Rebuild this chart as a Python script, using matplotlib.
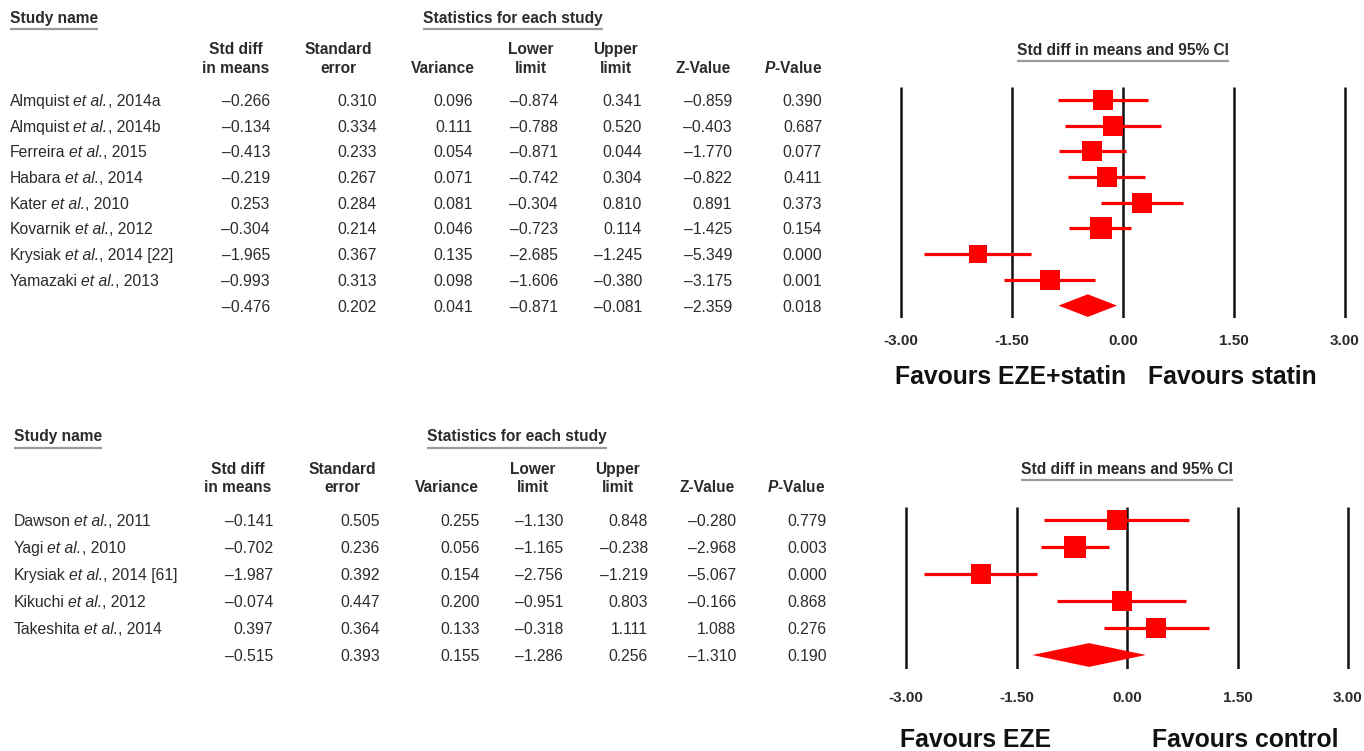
import numpy as np
import matplotlib.pyplot as plt
from matplotlib.font_manager import FontProperties

plt.rcParams['font.family'] = ['Liberation Sans', 'DejaVu Sans']
plt.rcParams['mathtext.fontset'] = 'custom'
plt.rcParams['mathtext.rm'] = 'Liberation Sans'
plt.rcParams['mathtext.it'] = 'Liberation Sans:italic'
plt.rcParams['mathtext.bf'] = 'Liberation Sans:bold'
plt.rcParams['mathtext.bfit'] = 'Liberation Sans:italic:bold'

# --- EZE + statin vs statin ---
names_a = ['Almquist et al., 2014a', 'Almquist et al., 2014b', 'Ferreira et al., 2015',
           'Habara et al., 2014', 'Kater et al., 2010', 'Kovarnik et al., 2012',
           'Krysiak et al., 2014 [22]', 'Yamazaki et al., 2013']
smd_a = [-0.266, -0.134, -0.413, -0.219, 0.253, -0.304, -1.965, -0.993]
se_a = [0.310, 0.334, 0.233, 0.267, 0.284, 0.214, 0.367, 0.313]
var_a = [0.096, 0.111, 0.054, 0.071, 0.081, 0.046, 0.135, 0.098]
lo_a = [-0.874, -0.788, -0.871, -0.742, -0.304, -0.723, -2.685, -1.606]
hi_a = [0.341, 0.520, 0.044, 0.304, 0.810, 0.114, -1.245, -0.380]
z_a = [-0.859, -0.403, -1.770, -0.822, 0.891, -1.425, -5.349, -3.175]
p_a = [0.390, 0.687, 0.077, 0.411, 0.373, 0.154, 0.000, 0.001]
pooled_a = [-0.476, 0.202, 0.041, -0.871, -0.081, -2.359, 0.018]

# --- EZE vs control ---
names_b = ['Dawson et al., 2011', 'Yagi et al., 2010', 'Krysiak et al., 2014 [61]',
           'Kikuchi et al., 2012', 'Takeshita et al., 2014']
smd_b = [-0.141, -0.702, -1.987, -0.074, 0.397]
se_b = [0.505, 0.236, 0.392, 0.447, 0.364]
var_b = [0.255, 0.056, 0.154, 0.200, 0.133]
lo_b = [-1.130, -1.165, -2.756, -0.951, -0.318]
hi_b = [0.848, -0.238, -1.219, 0.803, 1.111]
z_b = [-0.280, -2.968, -5.067, -0.166, 1.088]
p_b = [0.779, 0.003, 0.000, 0.868, 0.276]
pooled_b = [-0.515, 0.393, 0.155, -1.286, 0.256, -1.310, 0.190]

axis_ticks = [-3.0, -1.5, 0.0, 1.5, 3.0]
favours_a = ['Favours EZE+statin', 'Favours statin']
favours_b = ['Favours EZE', 'Favours control']

RED = '#ff0000'
INK = '#2b2b2b'
W, H = 1364, 751
FS_DATA = 11.3
FS_HEAD = 11.2

fig = plt.figure(figsize=(W / 100, H / 100), dpi=100)
ov = fig.add_axes([0, 0, 1, 1])
ov.set_xlim(0, W)
ov.set_ylim(H, 0)
ov.axis('off')
renderer = fig.canvas.get_renderer()


def fmt(v):
    return f'{v:.3f}'.replace('-', '\u2013')


def text_w(s, prop):
    return renderer.get_text_width_height_descent(s, prop, ismath=False)[0]


def study_label(x, y, name):
    # author, italic "et al.", then the rest, laid out piece by piece
    author, rest = name.split(' et al.')
    reg = FontProperties(family='Liberation Sans', size=FS_DATA)
    ita = FontProperties(family='Liberation Sans', style='italic', size=FS_DATA)
    space = 0.7 * (text_w('a a', reg) - text_w('aa', reg))
    for s, prop in [(author, reg), ('et al.', ita), (rest, reg)]:
        ov.text(x, y, s, fontproperties=prop, color=INK, ha='left', va='baseline')
        x += text_w(s, prop) + (space if s == author else 0)


def re_weights(y, v):
    # DerSimonian-Laird random-effects weights
    y, v = np.asarray(y), np.asarray(v)
    w = 1 / v
    ybar = np.sum(w * y) / np.sum(w)
    q = np.sum(w * (y - ybar) ** 2)
    c = np.sum(w) - np.sum(w ** 2) / np.sum(w)
    tau2 = max(0.0, (q - (len(y) - 1)) / c)
    return 1 / (v + tau2)


underlined = []


def table(x_name, y_head, y_h1, y_h2, rows_y, centers, rights, names, cols, pooled):
    t = ov.text(x_name, y_head, 'Study name', fontsize=FS_HEAD, fontweight='bold',
                color=INK, va='center', ha='left')
    underlined.append(t)
    t = ov.text(centers[2] - 20, y_head, 'Statistics for each study', fontsize=FS_HEAD,
                fontweight='bold', color=INK, va='center', ha='left')
    underlined.append(t)
    heads = [('Std diff', 'in means'), ('Standard', 'error'), (None, 'Variance'),
             ('Lower', 'limit'), ('Upper', 'limit'), (None, 'Z-Value'),
             (None, r'$\mathbfit{P}$-Value')]
    for cx, (h1, h2) in zip(centers, heads):
        if h1:
            ov.text(cx, y_h1, h1, fontsize=FS_HEAD, fontweight='bold', color=INK,
                    ha='center', va='baseline')
        ov.text(cx, y_h2, h2, fontsize=FS_HEAD, fontweight='bold', color=INK,
                ha='center', va='baseline')
    for i, name in enumerate(names):
        study_label(x_name, rows_y[i] + 6, name)
        for rx, col in zip(rights, cols):
            ov.text(rx, rows_y[i] + 6, fmt(col[i]), fontsize=FS_DATA, color=INK,
                    ha='right', va='baseline')
    for rx, val in zip(rights, pooled):
        ov.text(rx, rows_y[len(names)] + 6, fmt(val), fontsize=FS_DATA, color=INK,
                ha='right', va='baseline')


def forest(x_m3, x_p3, y_top, y_bot, smd, var, lo, hi, pooled, box_pt, pad, fav, fav_x, fav_y):
    n = len(smd) + 1
    unit = (x_p3 - x_m3) / 6
    left = x_m3 - 0.2 * unit
    ax = fig.add_axes([left / W, 1 - y_bot / H, 6.4 * unit / W, (y_bot - y_top) / H])
    ax.set_xlim(-3.2, 3.2)
    ax.set_ylim(n - 0.5, -0.5)
    for s in ax.spines.values():
        s.set_visible(False)
    ax.set_yticks([])
    ax.set_xticks(axis_ticks, labels=[f'{t:.2f}' for t in axis_ticks])
    ax.tick_params(axis='x', length=0, pad=pad, labelsize=11, labelcolor=INK)
    for lab in ax.get_xticklabels():
        lab.set_fontweight('bold')
    ax.vlines(axis_ticks, -0.5, n - 0.5, color='#111111', lw=1.8, zorder=1)
    rows = np.arange(len(smd))
    ax.hlines(rows, lo, hi, color=RED, lw=2.3, zorder=2)
    w = re_weights(smd, var)
    sizes = box_pt * np.sqrt(w / w.max())
    for r, m, s in zip(rows, smd, sizes):
        ax.plot(m, r, marker='s', ms=s, color=RED, mec=RED, mew=0, zorder=3)
    est, lo_p, hi_p = pooled[0], pooled[3], pooled[4]
    r = n - 1
    h = 0.44
    ax.fill([lo_p, est, hi_p, est], [r, r - h, r, r + h], color=RED, lw=0, zorder=3)
    t = ov.text((x_m3 + x_p3) / 2, y_top - 37, 'Std diff in means and 95% CI',
                fontsize=11.2, fontweight='bold', color=INK, ha='center', va='center')
    underlined.append(t)
    for txt, fx in zip(fav, fav_x):
        ov.text(fx, fav_y, txt, fontsize=17.8, fontweight='bold', color='#111111',
                ha='left', va='center')
    return ax


rows_top = [100 + 25.7 * i for i in range(len(names_a) + 1)]
table(10, 18, 54, 73, rows_top,
      [236, 338, 443, 531, 616, 703, 793],
      [270, 377, 473, 558, 642, 732, 822],
      names_a, [smd_a, se_a, var_a, lo_a, hi_a, z_a, p_a], pooled_a)
forest(901, 1345, 87.15, 318.45, smd_a, var_a, lo_a, hi_a, pooled_a, 15.2, 11,
       favours_a, [895, 1148], 377)

rows_bot = [520 + 27 * i for i in range(len(names_b) + 1)]
table(14, 437, 474, 492, rows_bot,
      [238, 342, 447, 533, 618, 707, 796],
      [273, 380, 480, 563, 648, 736, 827],
      names_b, [smd_b, se_b, var_b, lo_b, hi_b, z_b, p_b], pooled_b)
forest(906, 1348, 506.5, 668.5, smd_b, var_b, lo_b, hi_b, pooled_b, 15.8, 16,
       favours_b, [900, 1152], 740)

# grey underline beneath the section headings
fig.canvas.draw()
inv = ov.transData.inverted()
for t in underlined:
    bb = t.get_window_extent(renderer)
    (x0, y0), (x1, y1) = inv.transform([(bb.x0, bb.y0), (bb.x1, bb.y1)])
    ov.plot([x0, x1], [y0 + 3, y0 + 3], color='#9a9a9a', lw=1.6,
            solid_capstyle='butt')

fig.savefig('out.png', dpi=100)
